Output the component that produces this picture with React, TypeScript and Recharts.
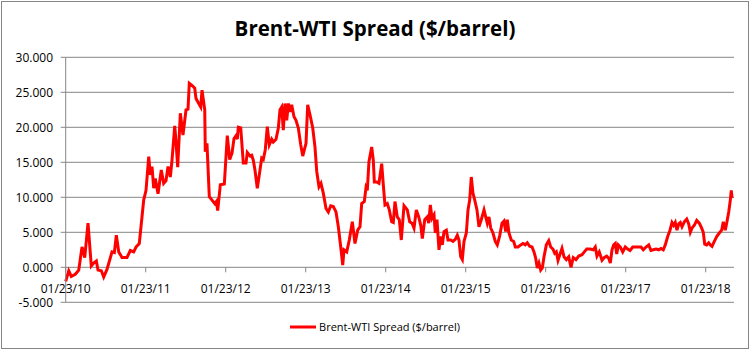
import React from 'react';
import { LineChart, Line, XAxis, YAxis, CartesianGrid, Legend } from 'recharts';

// Decimal year of each observation (01/23/2010 = 2010.060)
const dates: number[] = [
  2010.060, 2010.098, 2010.130, 2010.180, 2010.223, 2010.264, 2010.298, 2010.339, 2010.380, 2010.410,
  2010.443, 2010.464, 2010.505, 2010.535, 2010.576, 2010.639, 2010.668, 2010.693, 2010.723, 2010.764,
  2010.826, 2010.868, 2010.910, 2010.939, 2010.980, 2011.035, 2011.064, 2011.098, 2011.118, 2011.139,
  2011.160, 2011.180, 2011.214, 2011.255, 2011.285, 2011.314, 2011.339, 2011.368, 2011.389, 2011.423,
  2011.439, 2011.460, 2011.493, 2011.526, 2011.564, 2011.589, 2011.605, 2011.648, 2011.673, 2011.689,
  2011.723, 2011.748, 2011.764, 2011.798, 2011.805, 2011.826, 2011.855, 2011.889, 2011.923, 2011.943,
  2011.960, 2011.993, 2012.043, 2012.080, 2012.110, 2012.139, 2012.164, 2012.189, 2012.205, 2012.218,
  2012.248, 2012.280, 2012.314, 2012.330, 2012.364, 2012.385, 2012.405, 2012.426, 2012.455, 2012.480,
  2012.510, 2012.530, 2012.555, 2012.580, 2012.605, 2012.635, 2012.655, 2012.689, 2012.718, 2012.739,
  2012.760, 2012.780, 2012.801, 2012.823, 2012.843, 2012.864, 2012.885, 2012.914, 2012.939, 2012.968,
  2012.998, 2013.023, 2013.064, 2013.085, 2013.114, 2013.148, 2013.176, 2013.198, 2013.226, 2013.251,
  2013.280, 2013.314, 2013.343, 2013.373, 2013.405, 2013.439, 2013.468, 2013.498, 2013.523, 2013.539,
  2013.573, 2013.605, 2013.643, 2013.676, 2013.710, 2013.739, 2013.760, 2013.793, 2013.814, 2013.830,
  2013.851, 2013.885, 2013.905, 2013.918, 2013.948, 2013.976, 2014.010, 2014.030, 2014.051, 2014.080,
  2014.105, 2014.135, 2014.155, 2014.176, 2014.205, 2014.230, 2014.255, 2014.289, 2014.330, 2014.360,
  2014.389, 2014.414, 2014.443, 2014.473, 2014.498, 2014.518, 2014.548, 2014.580, 2014.598, 2014.618,
  2014.639, 2014.664, 2014.680, 2014.701, 2014.726, 2014.748, 2014.768, 2014.789, 2014.818, 2014.839,
  2014.873, 2014.901, 2014.930, 2014.955, 2014.976, 2014.998, 2015.018, 2015.039, 2015.068, 2015.089,
  2015.110, 2015.130, 2015.151, 2015.173, 2015.201, 2015.226, 2015.255, 2015.289, 2015.310, 2015.330,
  2015.351, 2015.373, 2015.401, 2015.430, 2015.455, 2015.485, 2015.514, 2015.539, 2015.560, 2015.580,
  2015.601, 2015.630, 2015.660, 2015.680, 2015.714, 2015.748, 2015.776, 2015.805, 2015.830, 2015.860,
  2015.889, 2015.914, 2015.935, 2015.955, 2015.976, 2015.998, 2016.018, 2016.039, 2016.068, 2016.098,
  2016.123, 2016.151, 2016.173, 2016.193, 2016.214, 2016.243, 2016.264, 2016.289, 2016.318, 2016.348,
  2016.376, 2016.405, 2016.439, 2016.473, 2016.514, 2016.543, 2016.573, 2016.614, 2016.655, 2016.680,
  2016.701, 2016.730, 2016.764, 2016.793, 2016.823, 2016.848, 2016.868, 2016.889, 2016.910, 2016.930,
  2016.948, 2016.968, 2016.993, 2017.023, 2017.055, 2017.085, 2017.114, 2017.148, 2017.189, 2017.223,
  2017.251, 2017.280, 2017.314, 2017.348, 2017.376, 2017.405, 2017.439, 2017.473, 2017.501, 2017.530,
  2017.555, 2017.585, 2017.614, 2017.639, 2017.660, 2017.680, 2017.701, 2017.723, 2017.743, 2017.764,
  2017.793, 2017.823, 2017.848, 2017.868, 2017.889, 2017.918, 2017.948, 2017.980, 2018.010, 2018.030,
  2018.048, 2018.073, 2018.098, 2018.118, 2018.139, 2018.168, 2018.198, 2018.230, 2018.260, 2018.280,
  2018.305, 2018.326, 2018.348, 2018.368, 2018.380, 2018.389,
];

// Brent minus WTI, $/barrel
const spread: number[] = [
  -2.0, -0.5, -1.3, -1.0, -0.4, 2.9, 1.4, 6.3, 0.2, 0.6,
  0.9, -0.4, -0.5, -1.4, -0.3, 2.2, 2.1, 4.6, 2.2, 1.4,
  1.4, 2.4, 2.2, 2.9, 3.4, 9.6, 11.0, 15.8, 13.2, 14.4,
  11.3, 12.7, 10.5, 13.9, 12.0, 12.4, 14.4, 12.9, 15.3, 20.2,
  17.9, 14.3, 22.0, 18.9, 22.5, 22.6, 26.3, 25.9, 25.6, 24.1,
  23.4, 22.9, 25.3, 22.5, 16.5, 17.7, 10.1, 9.6, 9.1, 9.4,
  8.1, 11.8, 11.9, 18.8, 15.4, 16.3, 18.4, 18.8, 18.3, 20.0,
  19.9, 14.9, 14.9, 16.4, 15.9, 16.0, 15.3, 13.9, 11.3, 13.2,
  15.6, 15.4, 16.8, 20.1, 17.5, 18.3, 17.9, 18.3, 19.9, 22.5,
  22.9, 19.6, 23.4, 21.0, 23.4, 22.2, 23.2, 21.5, 21.0, 19.9,
  17.5, 15.9, 17.7, 23.2, 21.8, 19.9, 17.2, 13.7, 11.5, 12.0,
  10.6, 8.4, 7.9, 8.8, 8.7, 7.9, 5.8, 2.9, 0.3, 2.5,
  2.2, 3.9, 6.5, 3.4, 5.3, 5.8, 9.1, 9.4, 11.4, 11.0,
  15.1, 17.2, 15.3, 12.2, 12.2, 12.0, 14.8, 11.8, 8.9, 9.1,
  8.2, 6.5, 6.4, 9.4, 7.2, 6.8, 3.9, 8.8, 8.2, 6.5,
  6.3, 5.6, 8.2, 7.2, 6.0, 4.1, 6.8, 7.2, 6.3, 8.9,
  7.0, 7.5, 4.9, 6.8, 2.5, 4.4, 3.2, 5.1, 5.3, 3.9,
  3.9, 3.7, 4.0, 4.6, 3.9, 1.5, 1.1, 3.7, 4.9, 8.2,
  9.6, 12.9, 10.6, 9.6, 8.2, 5.8, 6.8, 8.2, 7.2, 6.3,
  7.2, 5.6, 4.9, 3.7, 3.2, 4.5, 6.3, 6.6, 5.1, 6.8,
  4.9, 3.9, 3.7, 2.9, 2.9, 3.2, 3.4, 3.2, 3.5, 3.0,
  2.9, 2.2, 1.3, -0.1, 0.6, -0.4, -0.1, 1.5, 3.2, 3.8,
  2.9, 2.6, 2.0, 2.2, 1.0, 2.0, 2.7, 1.5, 1.1, 1.5,
  0.0, 1.4, 1.1, 1.6, 1.8, 2.2, 2.6, 2.6, 2.5, 2.9,
  1.6, 2.2, 1.0, 1.4, 1.6, 1.3, 0.6, 2.5, 3.2, 3.4,
  1.9, 3.2, 2.9, 2.2, 2.9, 2.6, 2.4, 2.9, 2.9, 2.9,
  2.9, 2.5, 2.9, 3.2, 2.4, 2.5, 2.6, 2.5, 2.7, 2.5,
  3.2, 4.4, 5.3, 6.4, 6.0, 6.4, 5.3, 6.2, 6.4, 5.8,
  6.5, 6.9, 6.2, 5.0, 5.6, 6.0, 6.7, 6.3, 5.6, 5.0,
  3.3, 3.2, 3.5, 3.2, 3.0, 3.7, 4.4, 4.9, 5.3, 6.5,
  5.3, 6.5, 7.9, 9.6, 11.0, 9.9,
];

const tickYears: number[] = [2010, 2011, 2012, 2013, 2014, 2015, 2016, 2017, 2018];
const yTicks: number[] = [-5, 0, 5, 10, 15, 20, 25, 30];
const seriesName = 'Brent-WTI Spread ($/barrel)';
const chartTitle = 'Brent-WTI Spread ($/barrel)';

const JAN23 = 0.06;
const Y_MIN = -5;
const Y_MAX = 30;
const X_MAX = 2018.414;

const data = dates.map((t, i) => ({ t, v: spread[i] }));
const xTicks = tickYears.map((y) => y + JAN23);

const W = 750;
const H = 351;
const MARGIN = { top: 57.3, right: 16, bottom: 47.7, left: 0 };
const Y_AXIS_W = 65.7;
const PLOT_H = H - MARGIN.top - MARGIN.bottom - 1;
const GRID = '#868686';
const FONT = '"Open Sans", "Liberation Sans", Arial, sans-serif';

const XTick = (props: any) => {
  const { x, y, payload } = props;
  const zeroOffset = (PLOT_H * (0 - Y_MIN)) / (Y_MAX - Y_MIN);
  const axisY = y - zeroOffset;
  const yr = Math.round(payload.value - JAN23);
  const label = `01/23/${String(yr % 100).padStart(2, '0')}`;
  return (
    <g>
      <line x1={x} x2={x} y1={axisY} y2={axisY + 5} stroke={GRID} strokeWidth={1} />
      <text x={x} y={axisY + 26} textAnchor="middle" fontSize={12} fontFamily={FONT} fill="#000">
        {label}
      </text>
    </g>
  );
};

const LegendContent = (props: any) => {
  const item = props.payload && props.payload[0];
  if (!item) return null;
  return (
    <div
      style={{
        display: 'flex',
        alignItems: 'center',
        justifyContent: 'center',
        fontFamily: FONT,
        fontSize: 11,
        color: '#000',
      }}
    >
      <svg width={26} height={6} style={{ display: 'block' }}>
        <line x1={0} x2={26} y1={3} y2={3} stroke={item.color} strokeWidth={3} />
      </svg>
      <span style={{ marginLeft: 3, lineHeight: '16px' }}>{item.value}</span>
    </div>
  );
};

export default function App() {
  return (
    <div style={{ position: 'absolute', left: 0, top: 0, width: W, height: H, background: '#fff' }}>
      <div
        style={{
          position: 'absolute',
          left: 0,
          top: 15,
          width: W,
          textAlign: 'center',
          fontFamily: FONT,
          fontWeight: 700,
          fontSize: 20.5,
          lineHeight: '26px',
          color: '#000',
        }}
      >
        {chartTitle}
      </div>
      <LineChart width={W} height={H} data={data} margin={MARGIN}>
        <CartesianGrid vertical={false} stroke={GRID} strokeWidth={1} />
        <XAxis
          dataKey="t"
          type="number"
          domain={[dates[0], X_MAX]}
          ticks={xTicks}
          interval={0}
          axisLine={false}
          tickLine={false}
          tickSize={0}
          tickMargin={0}
          height={1}
          tick={<XTick />}
        />
        <YAxis
          type="number"
          domain={[Y_MIN, Y_MAX]}
          ticks={yTicks}
          interval={0}
          width={Y_AXIS_W}
          tickSize={5}
          tickMargin={7.7}
          axisLine={{ stroke: GRID }}
          tickLine={{ stroke: GRID }}
          tick={{ fill: '#000', fontSize: 12, fontFamily: FONT }}
          tickFormatter={(v: number) => v.toFixed(3)}
        />
        <Legend
          layout="horizontal"
          verticalAlign="middle"
          align="center"
          wrapperStyle={{ top: 319, left: 0, width: W }}
          content={<LegendContent />}
        />
        <Line
          type="linear"
          dataKey="v"
          name={seriesName}
          stroke="#FF0000"
          strokeWidth={3}
          dot={false}
          isAnimationActive={false}
        />
      </LineChart>
      <div
        style={{
          position: 'absolute',
          left: 1,
          top: 1,
          width: 746,
          height: 346,
          border: '1px solid #868686',
          pointerEvents: 'none',
        }}
      />
    </div>
  );
}
